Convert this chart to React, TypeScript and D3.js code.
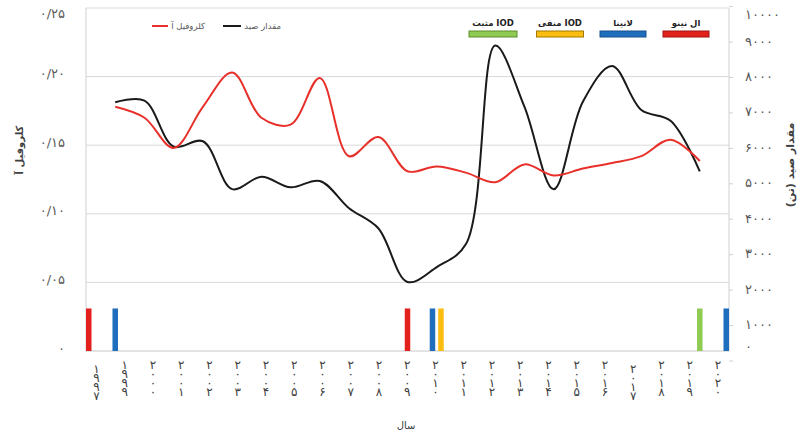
import React from "react";
import * as d3 from "d3";

// ---------- data ----------
const categories = [
  "۱۹۹۷", "۱۹۹۹", "۲۰۰۰", "۲۰۰۱", "۲۰۰۲", "۲۰۰۳", "۲۰۰۴", "۲۰۰۵", "۲۰۰۶", "۲۰۰۷", "۲۰۰۸",
  "۲۰۰۹", "۲۰۱۰", "۲۰۱۱", "۲۰۱۲", "۲۰۱۳", "۲۰۱۴", "۲۰۱۵", "۲۰۱۶", "۲۰۱۷", "۲۰۱۸", "۲۰۱۹", "۲۰۲۰",
];
const lineCategories = [
  "۱۹۹۹", "۲۰۰۰", "۲۰۰۱", "۲۰۰۲", "۲۰۰۳", "۲۰۰۴", "۲۰۰۵", "۲۰۰۶", "۲۰۰۷", "۲۰۰۸",
  "۲۰۰۹", "۲۰۱۰", "۲۰۱۱", "۲۰۱۲", "۲۰۱۳", "۲۰۱۴", "۲۰۱۵", "۲۰۱۶", "۲۰۱۷", "۲۰۱۸", "۲۰۱۹",
];
const chlorophyll = [
  0.178, 0.17, 0.148, 0.178, 0.203, 0.17, 0.165, 0.199, 0.142, 0.156,
  0.131, 0.1345, 0.13, 0.123, 0.136, 0.128, 0.133, 0.137, 0.142, 0.154, 0.1385,
];
const catchTons = [
  7300, 7350, 6050, 6200, 4850, 5200, 4900, 5080, 4310, 3745,
  2230, 2650, 3300, 8900, 7175, 4845, 7317, 8324, 7082, 6780, 5350,
];
const eventCategories = ["۱۹۹۷", "۱۹۹۹", "۲۰۰۹", "۲۰۱۰", "۲۰۱۰", "۲۰۱۹", "۲۰۲۰"];
const eventKinds = ["elnino", "lanina", "elnino", "lanina", "iodneg", "iodpos", "lanina"];
const eventValue = 0.031;

const legendKinds = ["iodpos", "iodneg", "lanina", "elnino"];
const legendLabels = ["IOD مثبت", "IOD منفی", "لانینا", "ال نینو"];

const leftTicks = [0, 0.05, 0.1, 0.15, 0.2, 0.25];
const leftTickLabels = ["۰", "۰/۰۵", "۰/۱۰", "۰/۱۵", "۰/۲۰", "۰/۲۵"];
const rightTicks = [0, 1000, 2000, 3000, 4000, 5000, 6000, 7000, 8000, 9000, 10000];
const rightTickLabels = ["۰", "۱۰۰۰", "۲۰۰۰", "۳۰۰۰", "۴۰۰۰", "۵۰۰۰", "۶۰۰۰", "۷۰۰۰", "۸۰۰۰", "۹۰۰۰", "۱۰۰۰۰"];

const seriesNames = ["کلروفیل آ", "مقدار صید"];

// ---------- styles ----------
const kindFill: Record<string, string> = {
  elnino: "#e2211c",
  lanina: "#1f6dbd",
  iodneg: "#fbbd10",
  iodpos: "#8fcb52",
};
const kindStroke: Record<string, string> = {
  elnino: "#a01212",
  lanina: "#16508c",
  iodneg: "#a27a00",
  iodpos: "#5e8e2c",
};
const FONT = "'DejaVu Sans', sans-serif";
const W = 803;
const H = 437;
const L = 86;
const R = 729;
const T = 8;
const B = 351;

export default function App() {
  const x = d3.scalePoint<string>().domain(categories).range([L, R]);
  const xLabel = d3.scalePoint<string>().domain(categories).range([L, R]).padding(0.38);
  const y1 = d3.scaleLinear().domain([0, 0.25]).range([B, T]);
  const y2 = d3.scaleLinear().domain([0, 10000]).range([361, 6.6]);

  const redLine = d3
    .line<number>()
    .x((_, i) => x(lineCategories[i])!)
    .y((d) => y1(d))
    .curve(d3.curveCatmullRom.alpha(0.5));
  const blackLine = d3
    .line<number>()
    .x((_, i) => x(lineCategories[i])!)
    .y((d) => y2(d))
    .curve(d3.curveCatmullRom.alpha(0.5));

  const barW = 5.5;
  const bars = eventCategories.map((c, i) => {
    const same = eventCategories.filter((d) => d === c).length;
    const k = eventCategories.slice(0, i).filter((d) => d === c).length;
    let cx = x(c)! + (k - (same - 1) / 2) * 8.5;
    cx = Math.max(L + barW / 2, Math.min(R - barW / 2, cx));
    return { cx, kind: eventKinds[i] };
  });

  const legendX = [493, 560, 623, 686];
  const legendW = [48, 47, 46, 46];

  return (
    <svg
      width={W}
      height={H}
      style={{ position: "absolute", left: 0, top: 0, background: "#fff" }}
      fontFamily={FONT}
    >
      {/* gridlines */}
      {leftTicks.slice(1).map((t) => (
        <line key={t} x1={L} x2={R} y1={y1(t)} y2={y1(t)} stroke="#d9d9d9" strokeWidth={1} />
      ))}
      {/* axes lines */}
      <line x1={L} x2={L} y1={T} y2={B} stroke="#d0d0d0" />
      <line x1={R} x2={R} y1={T} y2={B} stroke="#d0d0d0" />
      <line x1={L} x2={R} y1={B} y2={B} stroke="#c8c8c8" />
      {rightTicks.map((t) => (
        <line key={t} x1={R} x2={R + 4} y1={y2(t)} y2={y2(t)} stroke="#d0d0d0" />
      ))}

      {/* event bars */}
      {bars.map((b, i) => (
        <rect
          key={i}
          x={b.cx - barW / 2}
          y={y1(eventValue)}
          width={barW}
          height={B - y1(eventValue)}
          fill={kindFill[b.kind]}
        />
      ))}

      {/* lines */}
      <path d={blackLine(catchTons)!} fill="none" stroke="#1a1a1a" strokeWidth={2} />
      <path d={redLine(chlorophyll)!} fill="none" stroke="#e8302a" strokeWidth={2} />

      {/* left tick labels */}
      {leftTicks.map((t, i) => (
        <text
          key={t}
          x={65}
          y={Math.max(14, y1(t) - 2)}
          textAnchor="end"
          dominantBaseline="middle"
          fontSize={13}
          fill="#595959"
        >
          {leftTickLabels[i]}
        </text>
      ))}
      {/* right tick labels */}
      {rightTicks.map((t, i) => (
        <text
          key={t}
          x={745}
          y={Math.min(347, Math.max(15, y2(t)))}
          textAnchor="start"
          dominantBaseline="middle"
          fontSize={13}
          fill="#595959"
        >
          {rightTickLabels[i]}
        </text>
      ))}

      {/* x labels, stacked digits (one text element, per-glyph positions) */}
      {categories.map((c, i) => {
        const shift = i === 0 || c === "۲۰۱۷" ? 4 : 0;
        const chars = c.split("");
        const cx = xLabel(c)!;
        const xs = chars.map(() => cx - 3.5).join(" ");
        const ys = chars.map((_, j) => 369 + shift + j * 9).join(" ");
        return (
          <text key={c} x={xs} y={ys} fontSize={12} fill="#404040">
            {c}
          </text>
        );
      })}

      {/* axis titles */}
      <text
        transform="translate(20,150) rotate(-90)"
        textAnchor="middle"
        dominantBaseline="middle"
        fontSize={10}
        fontWeight="bold"
        fill="#404040"
        direction="rtl"
      >
        {seriesNames[0]}
      </text>
      <text
        transform="translate(791,165) rotate(-90)"
        textAnchor="middle"
        dominantBaseline="middle"
        fontSize={11}
        fontWeight="bold"
        fill="#404040"
        direction="rtl"
      >
        مقدار صید (تن)
      </text>
      <text x={406} y={429} textAnchor="middle" fontSize={10} fill="#404040">
        سال
      </text>

      {/* series legend */}
      <line x1={152} x2={168} y1={26} y2={26} stroke="#e8302a" strokeWidth={2} />
      <text x={205} y={26} textAnchor="end" dominantBaseline="middle" fontSize={8.5} fill="#595959">
        {seriesNames[0]}
      </text>
      <line x1={223} x2={241} y1={26} y2={26} stroke="#1a1a1a" strokeWidth={2} />
      <text x={281} y={26} textAnchor="end" dominantBaseline="middle" fontSize={8.5} fill="#595959">
        {seriesNames[1]}
      </text>

      {/* event legend */}
      {legendKinds.map((k, i) => (
        <g key={k}>
          <rect
            x={legendX[i] - legendW[i] / 2}
            y={31}
            width={legendW[i]}
            height={6}
            fill={kindFill[k]}
            stroke={kindStroke[k]}
            strokeWidth={1}
          />
          <text
            x={legendX[i]}
            y={23}
            textAnchor="middle"
            dominantBaseline="middle"
            fontSize={8.5}
            fontWeight="bold"
            fill="#222"
            direction="rtl"
          >
            {legendLabels[i]}
          </text>
        </g>
      ))}
    </svg>
  );
}
